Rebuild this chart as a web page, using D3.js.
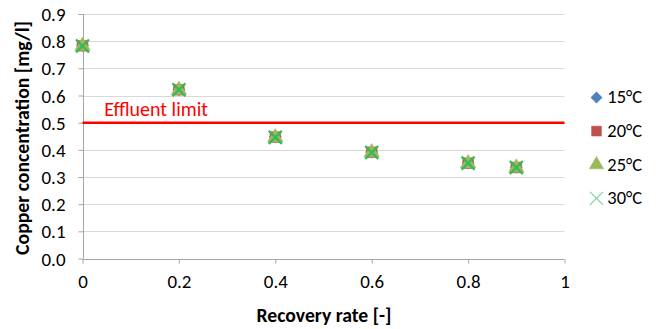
<!DOCTYPE html>
<html><head><meta charset="utf-8">
<script src="https://cdn.jsdelivr.net/npm/d3@7"></script>
<style>body{margin:0;background:#fff}text{font-family:Carlito,Calibri,"Open Sans","Liberation Sans",sans-serif}</style>
</head><body><svg id="c" width="658" height="329"></svg>
<script>
const recovery = [0, 0.2, 0.4, 0.6, 0.8, 0.9];
const c15 = [0.785, 0.622, 0.448, 0.392, 0.352, 0.336];
const c20 = [0.783, 0.621, 0.447, 0.391, 0.351, 0.335];
const c25 = [0.782, 0.620, 0.445, 0.390, 0.350, 0.334];
const c30 = [0.782, 0.621, 0.446, 0.390, 0.351, 0.335];
const seriesNames = ["15°C", "20°C", "25°C", "30°C"];
const effluentLimit = 0.5;
const xTicks = [0, 0.2, 0.4, 0.6, 0.8, 1];
const yTicks = [0, 0.1, 0.2, 0.3, 0.4, 0.5, 0.6, 0.7, 0.8, 0.9];

const symX = {draw(ctx, size) { const r = Math.sqrt(size) / 2; ctx.moveTo(-r, -r); ctx.lineTo(r, r); ctx.moveTo(r, -r); ctx.lineTo(-r, r); }};
const series = [
  {name: seriesNames[0], vals: c15, sym: d3.symbolDiamond2, color: "#4F81BD", size: 95, type: "fill"},
  {name: seriesNames[1], vals: c20, sym: d3.symbolSquare, color: "#C0504D", size: 115, type: "fill"},
  {name: seriesNames[2], vals: c25, sym: d3.symbolTriangle, color: "#9BBB59", size: 105, type: "fill"},
  {name: seriesNames[3], vals: c30, sym: symX, color: "#33B85A", size: 170, type: "stroke"}
];

const svg = d3.select("#c");
const x = d3.scaleLinear().domain([0, 1]).range([82.5, 564.5]);
const y = d3.scaleLinear().domain([0, 0.9]).range([258.5, 14]);

function fit(sel, target) {
  const w = sel.node().getBBox().width;
  const fs = parseFloat(sel.attr("font-size"));
  sel.attr("font-size", fs * target / w);
  return fs * target / w;
}

// gridlines
svg.append("g").selectAll("line").data(yTicks.filter(d => d > 0)).join("line")
  .attr("x1", x(0)).attr("x2", x(1)).attr("y1", d => Math.round(y(d)) + 0.5).attr("y2", d => Math.round(y(d)) + 0.5)
  .attr("stroke", "#D9D9D9").attr("stroke-width", 1);

// measure tick font size
const probe = svg.append("text").attr("font-size", 16).text("0.9");
const tickFs = fit(probe, 24);
probe.remove();
const probe2 = svg.append("text").attr("font-size", 16).text("15°C");
const legFs = fit(probe2, 35.4);
probe2.remove();

// axes
const ya = svg.append("g").attr("transform", `translate(${Math.round(x(0)) + 0.5},0)`)
  .call(d3.axisLeft(y).tickValues(yTicks).tickFormat(d3.format(".1f")).tickSize(5).tickPadding(13));
const xa = svg.append("g").attr("transform", `translate(0,${Math.round(y(0)) + 0.5})`)
  .call(d3.axisBottom(x).tickValues(xTicks).tickFormat(d => d === 0 || d === 1 ? d3.format("d")(d) : d3.format(".1f")(d)).tickSize(4).tickPadding(18));
[ya, xa].forEach(a => {
  a.select(".domain").attr("stroke", "#A6A6A6");
  a.selectAll(".tick line").attr("stroke", "#A6A6A6");
  a.selectAll("text").attr("font-size", tickFs).attr("fill", "#000").style("font-family", 'Carlito,Calibri,"Open Sans","Liberation Sans",sans-serif');
});
ya.selectAll(".tick text").attr("dy", "0.35em");
xa.selectAll(".tick text").attr("dy", "0.35em");
ya.select(".domain").attr("d", `M0,${y(0)}V${y(0.9)}`);
xa.select(".domain").attr("d", `M${x(0)},0H${x(1)}`);

// effluent limit
svg.append("line").attr("x1", x(0)).attr("x2", x(1))
  .attr("y1", y(effluentLimit)).attr("y2", y(effluentLimit))
  .attr("stroke", "#FF0000").attr("stroke-width", 2.5);
const eff = svg.append("text").attr("x", 104.3).attr("y", 115.7)
  .attr("fill", "#FF0000").attr("font-size", 20).text("Effluent limit");
fit(eff, 104);

// points
series.forEach(s => {
  const sym = d3.symbol().type(s.sym).size(s.size);
  svg.append("g").selectAll("path").data(recovery).join("path")
    .attr("transform", (d, i) => `translate(${x(d)},${y(s.vals[i])})`)
    .attr("d", sym)
    .attr("fill", s.type === "fill" ? s.color : "none")
    .attr("stroke", s.color).attr("stroke-width", s.type === "fill" ? 0.5 : 2.2);
});

// legend
const leg = svg.append("g");
series.forEach((s, i) => {
  const cy = 97.5 + i * 33.6;
  leg.append("path").attr("transform", `translate(596.5,${cy})`)
    .attr("d", d3.symbol().type(s.sym).size(s.type === "stroke" ? 170 : s.size * 0.85)())
    .attr("fill", s.type === "fill" ? s.color : "none")
    .attr("stroke", s.type === "fill" ? s.color : "#6FD396").attr("stroke-width", s.type === "fill" ? 0.5 : 1.1);
  leg.append("text").attr("x", 607.3).attr("y", cy + 5.8).attr("font-size", legFs).text(s.name);
});

// titles
const xt = svg.append("text").attr("x", 324).attr("y", 321.5).attr("text-anchor", "middle")
  .attr("font-size", 18).attr("font-weight", "bold").text("Recovery rate [-]");
fit(xt, 135);
const yt = svg.append("text").attr("transform", "translate(28.5,138) rotate(-90)").attr("text-anchor", "middle")
  .attr("font-size", 18).attr("font-weight", "bold").text("Copper concentration [mg/l]");
fit(yt, 234);
</script></body></html>
